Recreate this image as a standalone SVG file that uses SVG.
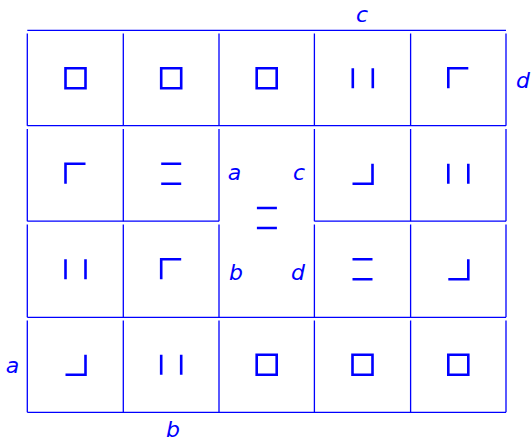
<svg xmlns="http://www.w3.org/2000/svg" xmlns:xlink="http://www.w3.org/1999/xlink" width="531" height="442" viewBox="0 0 531 442">
<style>
.grid{stroke:#0000ff;stroke-width:1.3;fill:none}
.g{stroke:#0000ff;stroke-width:2.6;fill:none;stroke-linecap:butt}
.lbl{font-family:"DejaVu Sans","Liberation Sans",sans-serif;font-style:italic;font-size:22px;fill:#0000ff;text-anchor:middle}
</style>
<defs>
<path id="sq" class="g" d="M-10,-10H10V10H-10Z"/>
<path id="ll" class="g" d="M-10,-10V10M10,-10V10"/>
<path id="eq" class="g" d="M-10,-10H10M-10,10H10"/>
<path id="tl" class="g" d="M-10,10V-10H10"/>
<path id="br" class="g" d="M-10,10H10V-10"/>
</defs>
<rect width="531" height="442" fill="#ffffff"/>
<g id="grid" class="grid">
<path d="M27.3,30.3H506M27.3,125.7H506M27.3,221.2H219M314.4,221.2H506M27.3,317.3H506M27.3,412.3H506"/>
<path d="M27.3,33.6V125.7M123.3,33.6V125.7M219,33.6V125.7M314.4,33.6V125.7M410.6,33.6V125.7M506,33.6V125.7"/>
<path d="M27.3,129V221.2M123.3,129V221.2M219,129V221.2M314.4,129V221.2M410.6,129V221.2M506,129V221.2"/>
<path d="M27.3,224.5V317.3M123.3,224.5V317.3M219,224.5V317.3M314.4,224.5V317.3M410.6,224.5V317.3M506,224.5V317.3"/>
<path d="M27.3,320.6V412.3M123.3,320.6V412.3M219,320.6V412.3M314.4,320.6V412.3M410.6,320.6V412.3M506,320.6V412.3"/>
</g>
<g id="r0c0"><use href="#sq" x="75.5" y="78.3"/></g>
<g id="r0c1"><use href="#sq" x="171.2" y="78.3"/></g>
<g id="r0c2"><use href="#sq" x="266.7" y="78.3"/></g>
<g id="r0c3"><use href="#ll" x="362.8" y="78.3"/></g>
<g id="r0c4"><use href="#tl" x="458.3" y="78.3"/></g>
<g id="r1c0"><use href="#tl" x="75.5" y="173.7"/></g>
<g id="r1c1"><use href="#eq" x="171.2" y="173.7"/></g>
<g id="merged"><use href="#eq" x="266.9" y="218"/>
<text class="lbl" x="234.5" y="180">a</text>
<text class="lbl" x="299" y="180">c</text>
<text class="lbl" x="236" y="280">b</text>
<text class="lbl" x="298" y="280">d</text>
</g>
<g id="r1c3"><use href="#br" x="362.5" y="173.7"/></g>
<g id="r1c4"><use href="#ll" x="458.3" y="173.7"/></g>
<g id="r2c0"><use href="#ll" x="75.5" y="269.3"/></g>
<g id="r2c1"><use href="#tl" x="171.2" y="269.3"/></g>
<g id="r2c3"><use href="#eq" x="362.5" y="269.3"/></g>
<g id="r2c4"><use href="#br" x="458.3" y="269.3"/></g>
<g id="r3c0"><use href="#br" x="75.5" y="364.8"/></g>
<g id="r3c1"><use href="#ll" x="171.2" y="364.8"/></g>
<g id="r3c2"><use href="#sq" x="266.7" y="364.8"/></g>
<g id="r3c3"><use href="#sq" x="362.5" y="364.8"/></g>
<g id="r3c4"><use href="#sq" x="458.3" y="364.8"/></g>
<g id="labels">
<text class="lbl" x="362" y="22">c</text>
<text class="lbl" x="523" y="88">d</text>
<text class="lbl" x="12.5" y="372.5">a</text>
<text class="lbl" x="173" y="437">b</text>
</g>
</svg>
